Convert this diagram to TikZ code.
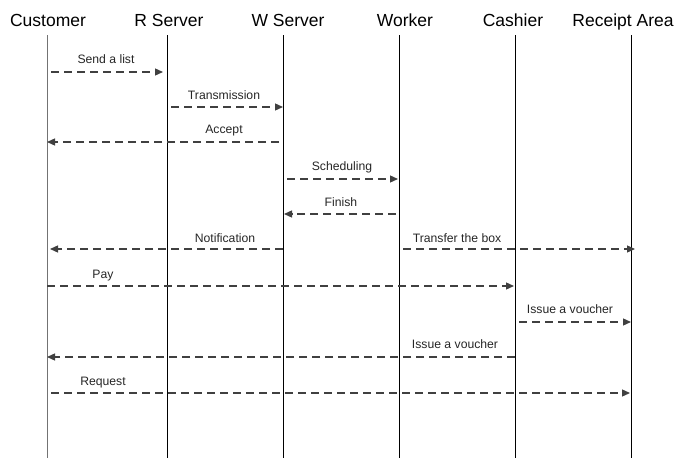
\documentclass[tikz,border=0pt]{standalone}
\usepackage{fontspec}
\setmainfont{Liberation Sans}
\usetikzlibrary{arrows.meta}
\begin{document}
\begin{tikzpicture}[x=1pt,y=-1pt,
  head/.style={font=\fontsize{17.5}{20}\selectfont, anchor=base, inner sep=0pt},
  lbl/.style={font=\fontsize{12.2}{14}\selectfont, anchor=base, inner sep=0pt, text=black!85},
  life/.style={line width=0.9pt, draw=black},
  msg/.style={line width=1.3pt, draw=black!75, dash pattern=on 8pt off 5pt, -{Triangle[length=8pt,width=7pt]}}]
\useasboundingbox (0,0) rectangle (675,458);
% headers
\node[head] (hC) at (48,26) {Customer};
\node[head] (hR) at (169,26) {R Server};
\node[head] (hW) at (288,26) {W Server};
\node[head] (hK) at (405,26) {Worker};
\node[head] (hS) at (513,26) {Cashier};
\node[head] (hA) at (623,26) {Receipt Area};
% lifelines
\coordinate (tC) at (47,35);  \coordinate (bC) at (47,458);
\coordinate (tR) at (167,35); \coordinate (bR) at (167,458);
\coordinate (tW) at (283,35); \coordinate (bW) at (283,458);
\coordinate (tK) at (399,35); \coordinate (bK) at (399,458);
\coordinate (tS) at (515,35); \coordinate (bS) at (515,458);
\coordinate (tA) at (631,35); \coordinate (bA) at (631,458);
\draw[life, draw=black!55] (tC) -- (bC);
\draw[life] (tR) -- (bR);
\draw[life] (tW) -- (bW);
\draw[life] (tK) -- (bK);
\draw[life] (tS) -- (bS);
\draw[life] (tA) -- (bA);
% message end points
\coordinate (m1s) at (51,72);   \coordinate (m1e) at (163,72);
\coordinate (m2s) at (171,107); \coordinate (m2e) at (283,107);
\coordinate (m3s) at (279,142); \coordinate (m3e) at (47,142);
\coordinate (m4s) at (287,179); \coordinate (m4e) at (398,179);
\coordinate (m5s) at (396,214); \coordinate (m5e) at (284,214);
\coordinate (m6s) at (283,249); \coordinate (m6e) at (50,249);
\coordinate (m7s) at (403,249); \coordinate (m7e) at (635,249);
\coordinate (m8s) at (47,286);  \coordinate (m8e) at (514,286);
\coordinate (m9s) at (519,322); \coordinate (m9e) at (631,322);
\coordinate (m10s) at (515,357); \coordinate (m10e) at (47,357);
\coordinate (m11s) at (51,393); \coordinate (m11e) at (630,393);
% messages
\draw[msg] (m1s) -- (m1e);   \node[lbl] (l1) at (106,63) {Send a list};
\draw[msg] (m2s) -- (m2e);   \node[lbl] (l2) at (224,99) {Transmission};
\draw[msg] (m3s) -- (m3e);   \node[lbl] (l3) at (224,133) {Accept};
\draw[msg] (m4s) -- (m4e);   \node[lbl] (l4) at (342,170) {Scheduling};
\draw[msg] (m5s) -- (m5e);   \node[lbl] (l5) at (341,206) {Finish};
\draw[msg] (m6s) -- (m6e);   \node[lbl] (l6) at (225,242) {Notification};
\draw[msg] (m7s) -- (m7e);   \node[lbl] (l7) at (457,242) {Transfer the box};
\draw[msg] (m8s) -- (m8e);   \node[lbl] (l8) at (103,278) {Pay};
\draw[msg] (m9s) -- (m9e);   \node[lbl] (l9) at (570,313) {Issue a voucher};
\draw[msg] (m10s) -- (m10e); \node[lbl] (l10) at (455,348) {Issue a voucher};
\draw[msg] (m11s) -- (m11e); \node[lbl] (l11) at (103,385) {Request};
\end{tikzpicture}
\end{document}
